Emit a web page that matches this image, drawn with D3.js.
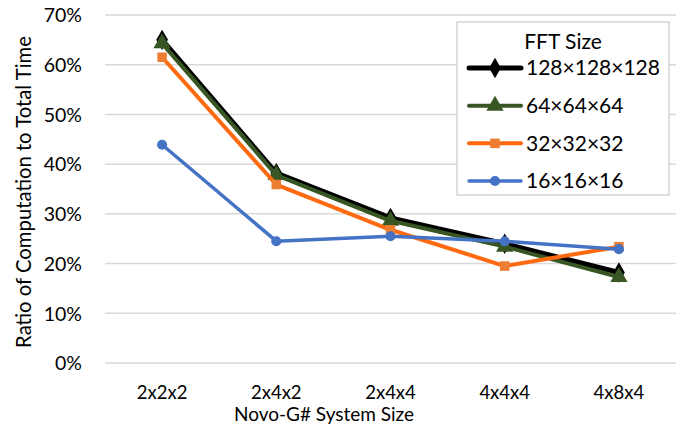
<!DOCTYPE html>
<html><head><meta charset="utf-8">
<script src="https://cdn.jsdelivr.net/npm/d3@7/dist/d3.min.js"></script>
<style>body{margin:0;background:#fff}svg{display:block}text{font-family:Lato,"Open Sans",sans-serif;fill:#000}</style>
</head><body><svg id="c" width="688" height="427"></svg>
<script>
const categories = ["2x2x2","2x4x2","2x4x4","4x4x4","4x8x4"];
const yTicks = [0,0.1,0.2,0.3,0.4,0.5,0.6,0.7];
const seriesNames = ["128×128×128","64×64×64","32×32×32","16×16×16"];
const s128 = [0.650,0.382,0.292,0.240,0.182];
const s64  = [0.643,0.378,0.286,0.234,0.173];
const s32  = [0.615,0.359,0.268,0.195,0.234];
const s16  = [0.439,0.245,0.255,0.245,0.229];

const series = [
  {name:seriesNames[0], values:s128, line:"#000000", fill:"#000000", width:5, marker:d3.symbolDiamond, msize:120},
  {name:seriesNames[1], values:s64, line:"#375623", fill:"#375623", width:4, marker:d3.symbolTriangle, msize:130},
  {name:seriesNames[2], values:s32, line:"#FF6A10", fill:"#ED7D31", width:4, marker:d3.symbolSquare, msize:90},
  {name:seriesNames[3], values:s16, line:"#4472C4", fill:"#4472C4", width:3.5, marker:d3.symbolCircle, msize:80}
];

const svg = d3.select("#c");
const x = d3.scaleBand().domain(categories).range([105,676]);
const y = d3.scaleLinear().domain([0,0.7]).range([363,15]);

svg.append("g").selectAll("line").data(yTicks).join("line")
  .attr("x1",105).attr("x2",676).attr("y1",d=>y(d)).attr("y2",d=>y(d))
  .attr("stroke","#D9D9D9").attr("stroke-width",1.5);

const yAxis = d3.axisLeft(y).tickValues(yTicks).tickFormat(d3.format(".0%")).tickSize(0).tickPadding(0);
const gy = svg.append("g").attr("transform","translate(82,0)").call(yAxis);
gy.select(".domain").remove();
gy.selectAll("text").style("font-size","19.5px").style("font-family","Lato").attr("fill","#000").attr("dy","0.35em");

const xAxis = d3.axisBottom(x).tickSize(0).tickPadding(0);
const gx = svg.append("g").attr("transform","translate(0,386)").call(xAxis);
gx.select(".domain").remove();
gx.selectAll("text").style("font-size","18.5px").style("font-family","Lato").attr("fill","#000").attr("dy","0.71em");

svg.append("text").attr("x",324).attr("y",421)
  .attr("text-anchor","middle").style("font-size","19px").text("Novo-G# System Size");
svg.append("text").attr("transform","translate(31,192) rotate(-90)")
  .attr("text-anchor","middle").style("font-size","20.3px").text("Ratio of Computation to Total Time");

const cx = c => x(c) + x.bandwidth()/2;
const lineGen = d3.line().x((d,i)=>cx(categories[i])).y(d=>y(d));
series.forEach(s=>{
  svg.append("path").datum(s.values).attr("d",lineGen).attr("fill","none")
    .attr("stroke",s.line).attr("stroke-width",s.width).attr("stroke-linejoin","round");
  svg.append("g").selectAll("path").data(s.values).join("path")
    .attr("d",d3.symbol().type(s.marker).size(s.msize))
    .attr("transform",(d,i)=>`translate(${cx(categories[i])},${y(d)})`)
    .attr("fill",s.fill);
});

const lg = svg.append("g");
lg.append("rect").attr("x",457).attr("y",22).attr("width",212).attr("height",173)
  .attr("fill","#fff").attr("stroke","#BFBFBF").attr("stroke-width",1);
lg.append("text").attr("x",563).attr("y",49).attr("text-anchor","middle").style("font-size","21px").text("FFT Size");
const rowY = d3.scalePoint().domain(seriesNames).range([68,181]);
series.forEach(s=>{
  const yy = rowY(s.name);
  lg.append("line").attr("x1",469).attr("x2",521).attr("y1",yy).attr("y2",yy)
    .attr("stroke",s.line).attr("stroke-width",s.width).attr("stroke-linecap","round");
  lg.append("path").attr("d",d3.symbol().type(s.marker).size(s.msize)).attr("transform",`translate(495,${yy})`).attr("fill",s.fill);
  lg.append("text").attr("x",526).attr("y",yy).attr("dy","0.35em").style("font-size","21px").text(s.name);
});
</script></body></html>
